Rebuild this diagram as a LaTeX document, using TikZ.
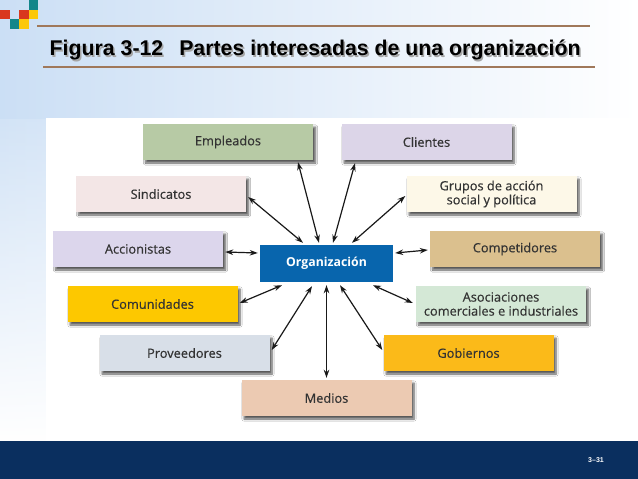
\documentclass[tikz,border=0pt]{standalone}
\usepackage{fontspec}
\setmainfont{Liberation Sans}
\newfontfamily\boxfont[FakeBold=0.45]{Open Sans}
\newfontfamily\orgfont{Open Sans}
\usetikzlibrary{arrows.meta,shadows.blur,calc,fadings}
\definecolor{cEmp}{HTML}{B7CAA5}
\definecolor{cCli}{HTML}{DCD5E8}
\definecolor{cSin}{HTML}{F3E6E6}
\definecolor{cGru}{HTML}{FDF8E8}
\definecolor{cAcc}{HTML}{DCD6EC}
\definecolor{cCom}{HTML}{DBC08E}
\definecolor{cCmu}{HTML}{FDC800}
\definecolor{cAso}{HTML}{D4E8D6}
\definecolor{cPro}{HTML}{D8DFE8}
\definecolor{cGob}{HTML}{FBBA19}
\definecolor{cMed}{HTML}{ECCAB2}
\definecolor{cOrg}{HTML}{0865AD}
\definecolor{cTxt}{HTML}{333333}
\definecolor{cBar}{HTML}{0A2F5F}
\definecolor{cLine}{HTML}{A0785A}
\definecolor{cSky}{HTML}{C2D9F3}
\definecolor{cRed}{HTML}{D9381E}
\definecolor{cTeal}{HTML}{13868A}
\definecolor{cYel}{HTML}{FCC80A}
\tikzset{
  sbox/.style={minimum width=170pt, minimum height=36pt, inner sep=0pt, align=center,
    font=\boxfont\fontsize{12.8}{14}\selectfont, text=cTxt,
    blur shadow={shadow xshift=2.5pt, shadow yshift=-3pt, shadow blur steps=6, shadow opacity=65}},
  orgbox/.style={minimum width=133pt, minimum height=37pt, inner sep=0pt, fill=cOrg,
    text=white, font=\orgfont\bfseries\fontsize{12.3}{14}\selectfont},
  arr/.style={{Stealth[length=8pt,width=5.5pt]}-{Stealth[length=8pt,width=5.5pt]}, line width=1.2pt, draw=black!90},
  sq/.style={minimum size=9.5pt, inner sep=0pt, anchor=north west},
  ttl/.style={anchor=base west, inner sep=0pt, font=\bfseries\fontsize{21.3}{24}\selectfont},
}
\begin{document}
\begin{tikzpicture}[x=1pt,y=-1pt]
\useasboundingbox (0,0) rectangle (638,479);
% background
\fill[white] (0,0) rectangle (638,441);
\shade[left color=cSky, right color=white, path fading=south] (0,0) rectangle (638,441);
\shade[left color=cSky!85, right color=white] (0,0) rectangle (638,118);
\fill[white] (46,118) rectangle (638,441);
\fill[cBar] (0,441) rectangle (638,479);
% corner squares
\node[sq, fill=cTeal] (s1) at (28.5,0) {};
\node[sq, fill=cRed] (s2) at (0,9.5) {};
\node[sq, fill=cRed] (s3) at (19,9.5) {};
\node[sq, fill=cYel] (s4) at (28.5,9.5) {};
\node[sq, fill=cTeal] (s5) at (9.5,19) {};
\node[sq, fill=cYel] (s6) at (19,19) {};
% title lines
\draw[cLine, line width=1.2pt] (37,26) -- (590,26);
\draw[cLine, line width=1.2pt] (43,67) -- (595,67);
\node[ttl, text=black!35] at (51,57.3) {Figura 3-12\hspace{0.75em}Partes interesadas de una organización};
\node[ttl, text=black] (title) at (49.5,56) {Figura 3-12\hspace{0.75em}Partes interesadas de una organización};
% boxes
\node[sbox, fill=cEmp] (emp) at (228,142) {Empleados};
\node[sbox, fill=cCli] (cli) at (426.5,142) {Clientes};
\node[sbox, fill=cSin] (sin) at (161,194) {Sindicatos};
\node[sbox, fill=cGru] (gru) at (491.5,194) {Grupos de acción\\social y política};
\node[sbox, fill=cAcc] (acc) at (138,249) {Accionistas};
\node[sbox, fill=cCom] (com) at (515,249) {Competidores};
\node[sbox, fill=cCmu] (cmu) at (152.5,304) {Comunidades};
\node[sbox, fill=cAso] (aso) at (501,304) {Asociaciones\\comerciales e industriales};
\node[sbox, fill=cPro] (pro) at (184.5,353) {Proveedores};
\node[sbox, fill=cGob] (gob) at (468.5,353) {Gobiernos};
\node[sbox, fill=cMed] (med) at (326.5,398) {Medios};
\node[orgbox] (org) at (326.5,263.5) {Organización};
% connectors
\draw[arr] ([xshift=70pt,yshift=-2pt]emp.south) -- ([xshift=-7.5pt,yshift=2pt]org.north);
\draw[arr] ([xshift=-71.5pt,yshift=-3pt]cli.south) -- ([xshift=6.5pt,yshift=2pt]org.north);
\draw[arr] ([xshift=2pt,yshift=-3pt]sin.east) -- ([xshift=-23.5pt,yshift=2pt]org.north);
\draw[arr] ([xshift=-1pt,yshift=-2pt]gru.west) -- ([xshift=25.5pt,yshift=2pt]org.north);
\draw[arr] ([xshift=2pt,yshift=-3pt]acc.east) -- ([xshift=-2pt,yshift=10.5pt]org.west);
\draw[arr] ([xshift=-2pt,yshift=-1pt]com.west) -- ([xshift=2pt,yshift=10.5pt]org.east);
\draw[arr] ([xshift=2pt,yshift=1pt]cmu.east) -- ([xshift=-44.5pt,yshift=-3pt]org.south);
\draw[arr] ([xshift=2pt,yshift=3pt]pro.east) -- ([xshift=-14.5pt,yshift=-4pt]org.south);
\draw[arr] ([yshift=-3pt]org.south) -- ([yshift=2pt]med.north);
\draw[arr] ([xshift=-3pt,yshift=1pt]aso.west) -- ([xshift=46.5pt,yshift=-3pt]org.south);
\draw[arr] ([xshift=-1pt,yshift=3pt]gob.west) -- ([xshift=13.5pt,yshift=-3pt]org.south);
% page number
\node[text=white, font=\bfseries\fontsize{7}{8}\selectfont, inner sep=0pt] (pg) at (596,460) {3--31};
\end{tikzpicture}
\end{document}
